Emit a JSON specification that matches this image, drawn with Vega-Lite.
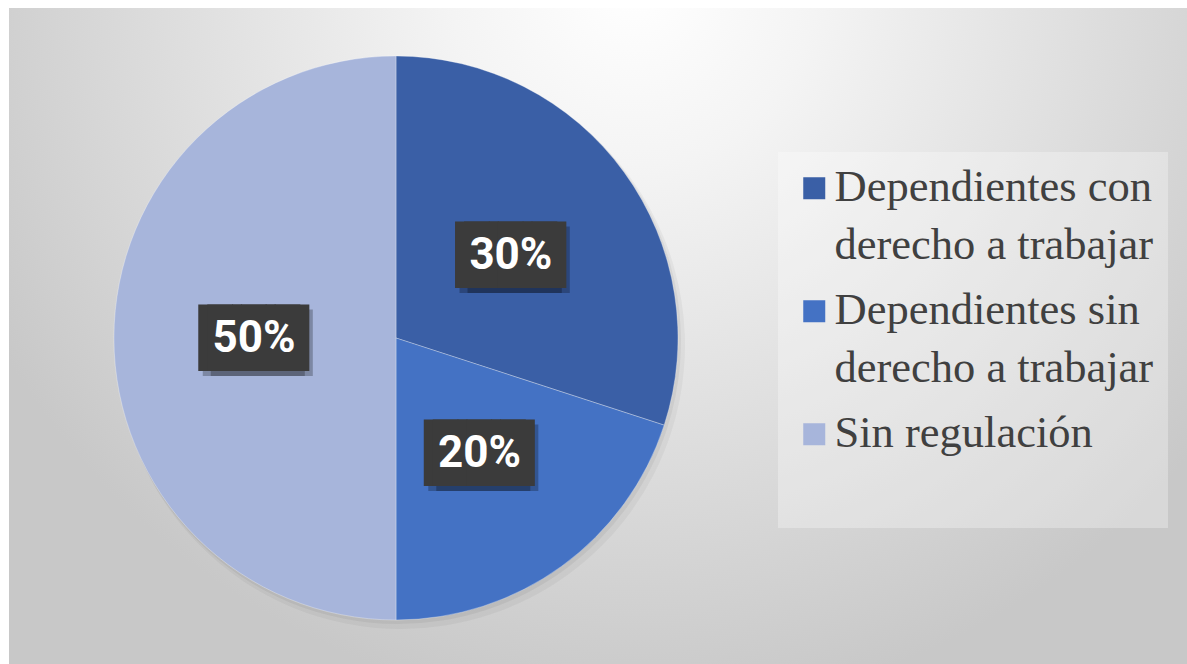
{
  "$schema": "https://vega.github.io/schema/vega-lite/v6.json",
  "width": 1187,
  "height": 664,
  "autosize": {"type": "fit", "contains": "padding"},
  "padding": {"left": 9, "top": 8, "right": 0, "bottom": 0},
  "background": "#ffffff",
  "view": {
    "stroke": null,
    "fill": {
      "gradient": "radial",
      "x1": 0.53, "y1": 0.2, "r1": 0,
      "x2": 0.53, "y2": 0.2, "r2": 0.62,
      "stops": [
        {"offset": 0, "color": "#ffffff"},
        {"offset": 0.25, "color": "#f4f4f4"},
        {"offset": 1, "color": "#c8c8c8"}
      ]
    }
  },
  "config": {
    "style": {"guide-label": {"lineHeight": 58}}
  },
  "data": {
    "values": [
      {"category": "Dependientes con derecho a trabajar", "value": 0.3},
      {"category": "Dependientes sin derecho a trabajar", "value": 0.2},
      {"category": "Sin regulación", "value": 0.5}
    ]
  },
  "encoding": {
    "theta": {"field": "value", "type": "quantitative", "stack": true},
    "order": {"field": "category", "type": "ordinal", "sort": "ascending"}
  },
  "layer": [
    {
      "mark": {"type": "arc", "outerRadius": 284, "x": 392, "y": 337, "color": "#000000", "opacity": 0.04}
    },
    {
      "mark": {"type": "arc", "outerRadius": 283, "x": 389, "y": 333, "color": "#000000", "opacity": 0.05}
    },
    {
      "mark": {"type": "arc", "outerRadius": 282, "x": 387, "y": 330, "stroke": "#ffffff", "strokeWidth": 0.6, "strokeOpacity": 0.5},
      "encoding": {
        "color": {
          "field": "category",
          "type": "nominal",
          "scale": {
            "domain": ["Dependientes con derecho a trabajar", "Dependientes sin derecho a trabajar", "Sin regulación"],
            "range": ["#3a5fa6", "#4472c4", "#a7b5db"]
          },
          "legend": {
            "orient": "none",
            "legendX": 769,
            "legendY": 144,
            "title": null,
            "symbolType": "square",
            "symbolSize": 484,
            "symbolStrokeWidth": 0,
            "symbolOpacity": 1,
            "labelFont": "Liberation Serif",
            "labelFontSize": 44.5,
            "labelColor": "#404040",
            "labelLimit": 0,
            "labelOffset": -2,
            "rowPadding": 20,
            "padding": 14,
            "fillColor": "rgba(255,255,255,0.3)",
            "labelExpr": "datum.label == 'Sin regulación' ? ['Sin regulación', ' '] : [slice(datum.label, 0, 16), slice(datum.label, 17)]",
            "encoding": {"labels": {"enter": {"lineHeight": {"value": 58}}, "update": {"lineHeight": {"value": 58}}}}
          }
        }
      }
    },
    {
      "mark": {"type": "text", "x": 387, "y": 330, "radius": 142, "font": "DejaVu Sans Mono", "fontSize": 56, "color": "#000000", "opacity": 0.25, "dx": 0, "dy": 7},
      "encoding": {"detail": {"field": "category"}, "text": {"value": "███"}}
    },
    {
      "mark": {"type": "text", "x": 387, "y": 330, "radius": 142, "font": "DejaVu Sans Mono", "fontSize": 56, "color": "#000000", "opacity": 0.25, "dx": 8, "dy": 7},
      "encoding": {"detail": {"field": "category"}, "text": {"value": "███"}}
    },
    {
      "mark": {"type": "text", "x": 387, "y": 330, "radius": 142, "font": "DejaVu Sans Mono", "fontSize": 56, "color": "#3b3b3b", "dx": -4.5, "dy": 2},
      "encoding": {"detail": {"field": "category"}, "text": {"value": "███"}}
    },
    {
      "mark": {"type": "text", "x": 387, "y": 330, "radius": 142, "font": "DejaVu Sans Mono", "fontSize": 56, "color": "#3b3b3b", "dx": 4.5, "dy": 2},
      "encoding": {"detail": {"field": "category"}, "text": {"value": "███"}}
    },
    {
      "mark": {"type": "text", "x": 387, "y": 330, "radius": 142, "font": "Roboto", "fontWeight": "bold", "fontSize": 44, "color": "#ffffff", "dy": 1},
      "encoding": {"detail": {"field": "category"}, "text": {"field": "value", "format": ".0%"}}
    }
  ]
}
